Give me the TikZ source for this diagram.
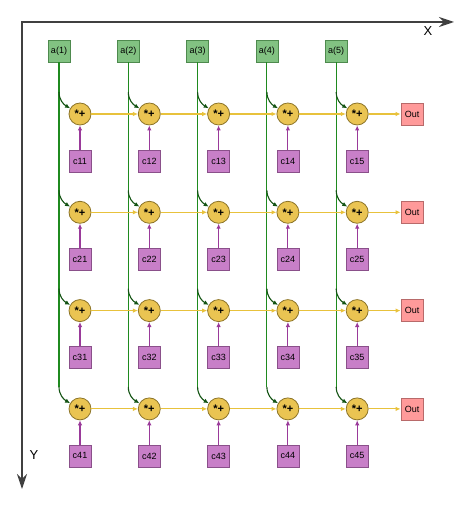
\documentclass[tikz,border=0pt]{standalone}
\usepackage{fontspec}
\setmainfont{Liberation Sans}
\usetikzlibrary{arrows.meta}
\definecolor{boxgreen}{HTML}{82C282}
\definecolor{edgegreen}{HTML}{4E8A4E}
\definecolor{wiregreen}{HTML}{1F8A1F}
\definecolor{boxpurple}{HTML}{C87FC8}
\definecolor{edgepurple}{HTML}{8A508A}
\definecolor{wirepurple}{HTML}{9A3A9A}
\definecolor{macyellow}{HTML}{EAC452}
\definecolor{edgeyellow}{HTML}{8C7428}
\definecolor{wireyellow}{HTML}{E8C23C}
\definecolor{boxred}{HTML}{FF9A9A}
\definecolor{edgered}{HTML}{B86A6A}
\begin{document}
\begin{tikzpicture}[x=1pt,y=1pt,>={Latex[length=5pt,width=4.5pt]},
    a node/.style={rectangle,draw=edgegreen,fill=boxgreen,line width=0.8pt,minimum size=22pt,inner sep=0pt,font=\fontsize{9}{9}\selectfont},
    c node/.style={rectangle,draw=edgepurple,fill=boxpurple,line width=0.8pt,minimum size=22pt,inner sep=0pt,font=\fontsize{9}{9}\selectfont},
    mac node/.style={circle,draw=edgeyellow,fill=macyellow,line width=0.8pt,minimum size=22pt,inner sep=0pt,font=\fontsize{11}{11}\selectfont\bfseries},
    out node/.style={rectangle,draw=edgered,fill=boxred,line width=0.8pt,minimum size=22pt,inner sep=0pt,font=\fontsize{9}{9}\selectfont},
    wire/.style={line width=1.1pt},
    axis/.style={draw=black!75,line width=1.4pt,{Stealth[length=15pt,width=10pt]}-{Stealth[length=15pt,width=10pt]}}]
    \useasboundingbox (0,0) rectangle (474,-510);

    % axes
    \coordinate (o) at (22,-22);
    \coordinate (xend) at (454,-22);
    \coordinate (yend) at (22,-489);
    \draw[axis] (xend) -- (o) -- (yend);
    \node[font=\fontsize{13}{13}\selectfont] (xl) at (428,-31) {X};
    \node[font=\fontsize{13}{13}\selectfont] (yl) at (34,-455) {Y};

    % a inputs, mac cells and c coefficients
    \foreach \j in {1,...,5} {
        \node[a node] at ({59+69.3*(\j-1)},-51) (a\j) {a(\j)};
        \foreach \i in {1,...,4} {
            \node[mac node] at ({80+69.3*(\j-1)},{-114-98.3*(\i-1)}) (m\i\j) {*+};
            \node[c node] at ({80+69.3*(\j-1)},{-161-98.3*(\i-1)}) (c\i\j) {c\i\j};
            \coordinate (b\i\j) at ({59+69.3*(\j-1)},{-92-98.3*(\i-1)});
        }
    }
    \foreach \i in {1,...,4}
        \node[out node] at (412,{-114-98.3*(\i-1)}) (out\i) {Out};

    % wires
    \foreach \j in {1,...,5} {
        \draw[wiregreen,wire] (a\j) -- (b4\j);
        \foreach \i in {1,...,4} {
            \draw[wiregreen!60!black,wire,->] (b\i\j) to[out=-90,in=150] (m\i\j);
            \draw[wirepurple,wire,->] (c\i\j) -- (m\i\j);
        }
    }
    \foreach \i in {1,...,4} {
        \foreach \j [evaluate=\j as \k using int(\j+1)] in {1,...,4}
            \draw[wireyellow,wire,->] (m\i\j) -- (m\i\k);
        \draw[wireyellow,wire,->] (m\i5) -- (out\i);
    }
\end{tikzpicture}
\end{document}
